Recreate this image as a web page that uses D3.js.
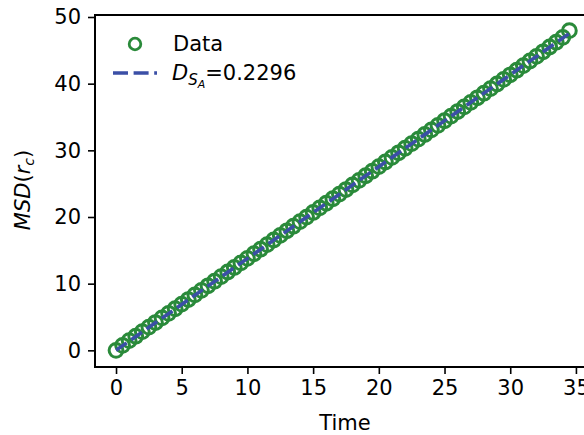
<!DOCTYPE html>
<html><head><meta charset="utf-8">
<script src="https://cdn.jsdelivr.net/npm/d3@7"></script>
<style>
html,body{margin:0;padding:0;background:#fff;}
svg{display:block;font-family:"DejaVu Sans",sans-serif;}
</style></head>
<body><svg id="c" width="584" height="435"></svg>
<script>
const times = [0,0.5,1,1.5,2,2.5,3,3.5,4,4.5,5,5.5,6,6.5,7,7.5,8,8.5,9,9.5,10,10.5,11,11.5,12,12.5,13,13.5,14,14.5,15,15.5,16,16.5,17,17.5,18,18.5,19,19.5,20,20.5,21,21.5,22,22.5,23,23.5,24,24.5,25,25.5,26,26.5,27,27.5,28,28.5,29,29.5,30,30.5,31,31.5,32,32.5,33,33.5,34,34.5];
const msd = [0.0,0.75,1.45,2.12,2.80,3.49,4.17,4.86,5.55,6.24,6.93,7.62,8.31,9.00,9.68,10.37,11.06,11.75,12.43,13.12,13.80,14.49,15.17,15.86,16.55,17.24,17.93,18.62,19.30,19.99,20.68,21.37,22.06,22.74,23.43,24.12,24.81,25.50,26.19,26.87,27.56,28.25,28.94,29.63,30.31,31.00,31.69,32.38,33.07,33.75,34.44,35.13,35.82,36.51,37.20,37.88,38.57,39.26,39.95,40.64,41.33,42.02,42.71,43.40,44.09,44.78,45.50,46.22,46.95,47.95];
const fitTimes = [0, 34.5];
const fitValues = [0, 47.53];
const xTicks = [0,5,10,15,20,25,30,35];
const yTicks = [0,10,20,30,40,50];
const fitLabelValue = "0.2296";

const svg = d3.select("#c");
const x = d3.scaleLinear().domain([-1.6, 36.5]).range([95, 95 + 38.1 * 13.14]);
const y = d3.scaleLinear().domain([-2.5, 50.3]).range([367, 15]);

const green = "#2a8a3a", blue = "#3b4fa6";

// data circles
svg.append("g").selectAll("circle").data(times).join("circle")
  .attr("cx", (d) => x(d)).attr("cy", (d, i) => y(msd[i])).attr("r", 6.9)
  .attr("fill", "none").attr("stroke", green).attr("stroke-width", 3);

// fit line
svg.append("path").datum(fitTimes)
  .attr("d", d3.line().x((d) => x(d)).y((d, i) => y(fitValues[i])))
  .attr("fill", "none").attr("stroke", blue).attr("stroke-width", 3.6)
  .attr("stroke-dasharray", "13,5.6");

// axes
const xa = svg.append("g").attr("transform", "translate(0,367)")
  .call(d3.axisBottom(x).tickValues(xTicks).tickSize(7).tickPadding(6));
const ya = svg.append("g").attr("transform", "translate(95,0)")
  .call(d3.axisLeft(y).tickValues(yTicks).tickSize(7).tickPadding(7));
[xa, ya].forEach(a => {
  a.select(".domain").remove();
  a.selectAll("line").attr("stroke", "#000").attr("stroke-width", 1.6);
  a.selectAll("text").attr("font-size", 21).attr("fill", "#000").attr("font-family", "DejaVu Sans");
});
// spines
svg.append("line").attr("x1", 95).attr("x2", 95).attr("y1", 15).attr("y2", 367).attr("stroke", "#000").attr("stroke-width", 2);
svg.append("line").attr("x1", 94).attr("x2", 584).attr("y1", 367).attr("y2", 367).attr("stroke", "#000").attr("stroke-width", 2);
svg.append("line").attr("x1", 94).attr("x2", 584).attr("y1", 15).attr("y2", 15).attr("stroke", "#000").attr("stroke-width", 2);

// axis labels
svg.append("text").attr("x", 345).attr("y", 430).attr("text-anchor", "middle")
  .attr("font-size", 21).text("Time");
const yl = svg.append("text").attr("transform", "translate(30,190) rotate(-90)")
  .attr("text-anchor", "middle").attr("font-size", 21);
yl.append("tspan").attr("font-style", "italic").text("MSD");
yl.append("tspan").text("(");
yl.append("tspan").attr("font-style", "italic").text("r");
yl.append("tspan").attr("font-style", "italic").attr("font-size", 14).attr("dy", 4).text("c");
yl.append("tspan").attr("dy", -4).text(")");

// legend
svg.append("circle").attr("cx", 135).attr("cy", 44).attr("r", 5.8)
  .attr("fill", "none").attr("stroke", green).attr("stroke-width", 2.8);
svg.append("text").attr("x", 173).attr("y", 51).attr("font-size", 21).text("Data");
svg.append("line").attr("x1", 113).attr("x2", 157).attr("y1", 73).attr("y2", 73)
  .attr("stroke", blue).attr("stroke-width", 3.6).attr("stroke-dasharray", "15,5.6");
const lt = svg.append("text").attr("x", 172).attr("y", 80).attr("font-size", 21);
lt.append("tspan").attr("font-style", "italic").text("D");
lt.append("tspan").attr("font-style", "italic").attr("font-size", 15).attr("dy", 5).text("S");
lt.append("tspan").attr("font-style", "italic").attr("font-size", 11).attr("dy", 3).text("A");
lt.append("tspan").attr("dy", -8).text("=" + fitLabelValue);
</script></body></html>
